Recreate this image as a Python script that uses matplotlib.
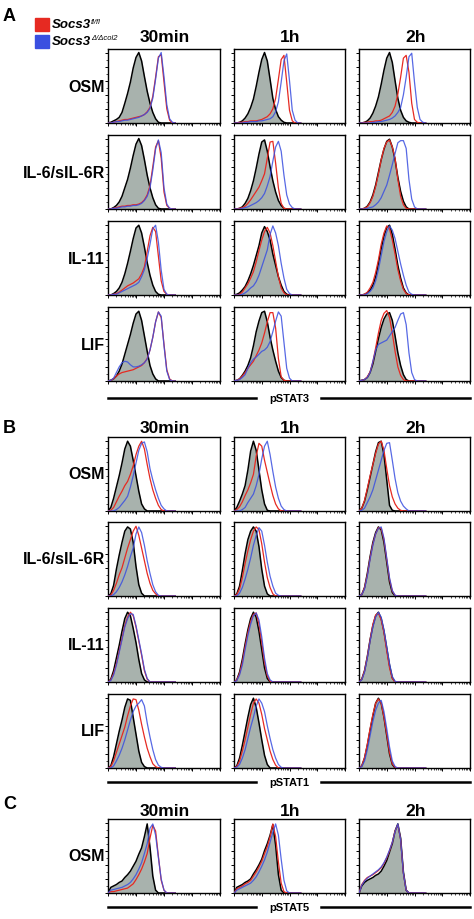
import numpy as np
import matplotlib.pyplot as plt
from matplotlib.ticker import FixedLocator, NullFormatter

plt.rcParams['font.family'] = ['Liberation Sans', 'DejaVu Sans']

##### data (channel grid 0..600, values in % of max) #####
channels = [0, 25, 50, 75, 100, 125, 150, 175, 200, 225, 250, 275, 300,
            325, 350, 375, 400, 425, 450, 475, 500, 525, 550, 575, 600]

times = ["30min", "1h", "2h"]
rows_a = ["OSM", "IL-6/sIL-6R", "IL-11", "LIF"]
rows_b = ["OSM", "IL-6/sIL-6R", "IL-11", "LIF"]
rows_c = ["OSM"]

# ----- A: pSTAT3 -----
a_osm_30_ctrl = [0, 1, 3, 5, 8, 15, 28, 42, 58, 78, 93, 100, 88, 66, 45, 28, 15, 6, 1, 0, 0, 0, 0, 0, 0]
a_osm_30_fl = [0, 0, 1, 2, 3, 4, 5, 5, 6, 7, 8, 9, 10, 12, 16, 22, 38, 65, 94, 97, 58, 20, 4, 0, 0]
a_osm_30_ko = [0, 0, 1, 2, 2, 3, 4, 4, 5, 6, 7, 8, 10, 12, 15, 21, 35, 62, 92, 100, 66, 26, 6, 1, 0]
a_osm_1h_ctrl = [0, 0, 1, 3, 7, 13, 22, 34, 52, 72, 90, 100, 88, 62, 35, 19, 9, 4, 1, 0, 0, 0, 0, 0, 0]
a_osm_1h_fl = [0, 0, 1, 1, 2, 2, 3, 3, 3, 4, 5, 7, 9, 13, 20, 35, 62, 90, 96, 58, 18, 3, 0, 0, 0]
a_osm_1h_ko = [0, 0, 0, 0, 1, 1, 2, 2, 2, 3, 3, 4, 5, 6, 9, 16, 30, 58, 88, 98, 60, 18, 4, 0, 0]
a_osm_2h_ctrl = [0, 0, 1, 3, 7, 14, 24, 37, 55, 75, 92, 100, 86, 60, 35, 18, 8, 3, 1, 0, 0, 0, 0, 0, 0]
a_osm_2h_fl = [0, 0, 1, 1, 2, 2, 3, 3, 4, 6, 8, 10, 15, 24, 41, 65, 92, 96, 72, 28, 5, 1, 0, 0, 0]
a_osm_2h_ko = [0, 0, 0, 0, 0, 1, 1, 2, 2, 3, 4, 5, 7, 10, 15, 22, 40, 65, 94, 99, 58, 22, 5, 1, 0]

a_il6_30_ctrl = [0, 0, 2, 5, 10, 18, 30, 42, 58, 76, 92, 100, 90, 70, 48, 30, 16, 6, 1, 0, 0, 0, 0, 0, 0]
a_il6_30_fl = [0, 0, 1, 2, 3, 4, 4, 5, 5, 6, 6, 7, 9, 13, 20, 33, 60, 88, 97, 72, 24, 5, 1, 0, 0]
a_il6_30_ko = [0, 0, 1, 1, 2, 3, 3, 4, 4, 5, 5, 6, 8, 12, 18, 30, 55, 85, 98, 80, 30, 7, 1, 0, 0]
a_il6_1h_ctrl = [0, 0, 1, 3, 8, 15, 26, 40, 58, 78, 95, 98, 82, 60, 40, 24, 12, 5, 1, 0, 0, 0, 0, 0, 0]
a_il6_1h_fl = [0, 0, 1, 2, 4, 8, 13, 19, 25, 31, 40, 50, 72, 95, 96, 65, 30, 8, 1, 0, 0, 0, 0, 0, 0]
a_il6_1h_ko = [0, 0, 0, 1, 2, 3, 5, 7, 9, 12, 16, 22, 33, 46, 68, 88, 96, 82, 48, 20, 7, 2, 0, 0, 0]
a_il6_2h_ctrl = [0, 0, 1, 4, 10, 20, 34, 52, 70, 85, 96, 99, 88, 70, 45, 25, 11, 3, 0, 0, 0, 0, 0, 0, 0]
a_il6_2h_fl = [0, 0, 1, 3, 9, 18, 32, 50, 70, 86, 95, 98, 88, 72, 42, 18, 6, 1, 0, 0, 0, 0, 0, 0, 0]
a_il6_2h_ko = [0, 0, 0, 1, 2, 3, 6, 10, 16, 25, 34, 48, 63, 79, 94, 97, 97, 86, 42, 14, 3, 0, 0, 0, 0]

a_il11_30_ctrl = [0, 0, 2, 5, 10, 18, 30, 45, 62, 80, 95, 99, 88, 68, 46, 28, 14, 5, 1, 0, 0, 0, 0, 0, 0]
a_il11_30_fl = [0, 0, 1, 2, 4, 7, 10, 13, 15, 17, 20, 23, 30, 40, 62, 84, 96, 90, 55, 20, 5, 1, 0, 0, 0]
a_il11_30_ko = [0, 0, 1, 1, 3, 5, 7, 9, 11, 13, 15, 18, 26, 36, 52, 72, 94, 99, 75, 35, 8, 1, 0, 0, 0]
a_il11_1h_ctrl = [0, 1, 3, 7, 12, 20, 30, 42, 56, 70, 88, 97, 90, 78, 58, 42, 26, 14, 5, 1, 0, 0, 0, 0, 0]
a_il11_1h_fl = [0, 0, 1, 4, 10, 16, 24, 33, 47, 63, 78, 90, 96, 88, 70, 48, 26, 10, 3, 0, 0, 0, 0, 0, 0]
a_il11_1h_ko = [0, 0, 0, 1, 3, 6, 10, 13, 19, 28, 40, 52, 64, 86, 98, 88, 70, 45, 24, 8, 2, 0, 0, 0, 0]
a_il11_2h_ctrl = [0, 0, 1, 3, 7, 14, 26, 45, 66, 84, 96, 99, 86, 65, 42, 24, 10, 3, 0, 0, 0, 0, 0, 0, 0]
a_il11_2h_fl = [0, 0, 1, 4, 10, 18, 32, 50, 72, 88, 98, 94, 78, 58, 36, 20, 8, 2, 0, 0, 0, 0, 0, 0, 0]
a_il11_2h_ko = [0, 0, 0, 2, 5, 10, 20, 36, 56, 76, 90, 98, 92, 80, 62, 44, 28, 14, 4, 1, 0, 0, 0, 0, 0]

a_lif_30_ctrl = [0, 1, 3, 7, 14, 24, 38, 52, 66, 82, 95, 99, 86, 64, 42, 22, 10, 3, 0, 0, 0, 0, 0, 0, 0]
a_lif_30_fl = [0, 1, 3, 7, 10, 12, 13, 14, 15, 16, 18, 20, 22, 26, 32, 44, 62, 84, 98, 90, 52, 16, 3, 0, 0]
a_lif_30_ko = [0, 1, 4, 12, 20, 26, 28, 27, 23, 20, 20, 21, 23, 26, 31, 44, 62, 84, 98, 92, 50, 14, 2, 0, 0]
a_lif_1h_ctrl = [0, 1, 3, 8, 14, 22, 33, 50, 70, 85, 97, 99, 84, 62, 44, 28, 14, 5, 1, 0, 0, 0, 0, 0, 0]
a_lif_1h_fl = [0, 1, 3, 7, 12, 18, 23, 28, 36, 44, 54, 68, 84, 97, 97, 75, 32, 6, 1, 0, 0, 0, 0, 0, 0]
a_lif_1h_ko = [0, 1, 2, 5, 9, 18, 26, 31, 34, 38, 42, 44, 48, 56, 70, 85, 98, 92, 55, 18, 4, 0, 0, 0, 0]
a_lif_2h_ctrl = [0, 1, 2, 5, 12, 24, 42, 60, 76, 88, 95, 97, 86, 64, 40, 22, 9, 2, 0, 0, 0, 0, 0, 0, 0]
a_lif_2h_fl = [0, 1, 2, 6, 13, 27, 47, 68, 86, 96, 100, 90, 68, 42, 20, 8, 2, 0, 0, 0, 0, 0, 0, 0, 0]
a_lif_2h_ko = [0, 1, 2, 5, 12, 28, 44, 52, 54, 56, 58, 64, 70, 76, 86, 95, 97, 80, 40, 12, 2, 0, 0, 0, 0]

# ----- B: pSTAT1 -----
b_osm_30_ctrl = [0, 5, 18, 34, 50, 68, 88, 99, 92, 72, 50, 28, 10, 3, 0, 0, 0, 0, 0, 0, 0, 0, 0, 0, 0]
b_osm_30_fl = [0, 1, 5, 13, 21, 28, 36, 42, 52, 64, 80, 92, 99, 88, 66, 46, 30, 18, 8, 2, 0, 0, 0, 0, 0]
b_osm_30_ko = [0, 0, 0, 2, 5, 10, 15, 21, 34, 50, 68, 86, 96, 98, 84, 60, 44, 30, 18, 8, 3, 0, 0, 0, 0]
b_osm_1h_ctrl = [0, 5, 14, 24, 36, 58, 85, 99, 86, 58, 30, 10, 1, 0, 0, 0, 0, 0, 0, 0, 0, 0, 0, 0, 0]
b_osm_1h_fl = [0, 2, 6, 13, 22, 30, 40, 52, 78, 96, 92, 72, 55, 38, 22, 10, 3, 0, 0, 0, 0, 0, 0, 0, 0]
b_osm_1h_ko = [0, 0, 0, 2, 5, 12, 18, 24, 36, 52, 74, 92, 99, 80, 56, 34, 18, 7, 2, 0, 0, 0, 0, 0, 0]
b_osm_2h_ctrl = [0, 4, 14, 30, 48, 66, 84, 97, 99, 80, 44, 8, 1, 0, 0, 0, 0, 0, 0, 0, 0, 0, 0, 0, 0]
b_osm_2h_fl = [0, 4, 15, 32, 50, 66, 82, 95, 99, 86, 60, 36, 20, 10, 4, 1, 0, 0, 0, 0, 0, 0, 0, 0, 0]
b_osm_2h_ko = [0, 1, 4, 12, 20, 30, 44, 58, 72, 86, 96, 97, 72, 46, 26, 14, 7, 3, 0, 0, 0, 0, 0, 0, 0]

b_il6_30_ctrl = [0, 3, 15, 38, 58, 76, 92, 98, 95, 76, 42, 16, 4, 0, 0, 0, 0, 0, 0, 0, 0, 0, 0, 0, 0]
b_il6_30_fl = [0, 1, 8, 18, 30, 40, 54, 68, 80, 92, 99, 86, 68, 50, 32, 18, 8, 3, 0, 0, 0, 0, 0, 0, 0]
b_il6_30_ko = [0, 0, 2, 6, 12, 20, 30, 42, 56, 68, 88, 98, 90, 72, 50, 32, 16, 6, 1, 0, 0, 0, 0, 0, 0]
b_il6_1h_ctrl = [0, 3, 14, 36, 60, 80, 92, 98, 92, 70, 38, 14, 3, 0, 0, 0, 0, 0, 0, 0, 0, 0, 0, 0, 0]
b_il6_1h_fl = [0, 2, 10, 26, 46, 64, 80, 92, 98, 94, 74, 48, 26, 12, 3, 0, 0, 0, 0, 0, 0, 0, 0, 0, 0]
b_il6_1h_ko = [0, 0, 4, 12, 24, 38, 54, 72, 86, 97, 92, 72, 48, 28, 14, 4, 1, 0, 0, 0, 0, 0, 0, 0, 0]
b_il6_2h_ctrl = [0, 2, 12, 32, 56, 76, 90, 98, 94, 76, 48, 20, 5, 0, 0, 0, 0, 0, 0, 0, 0, 0, 0, 0, 0]
b_il6_2h_fl = [0, 2, 12, 30, 54, 74, 88, 97, 96, 80, 52, 24, 7, 1, 0, 0, 0, 0, 0, 0, 0, 0, 0, 0, 0]
b_il6_2h_ko = [0, 2, 10, 28, 52, 72, 88, 96, 98, 82, 54, 26, 8, 1, 0, 0, 0, 0, 0, 0, 0, 0, 0, 0, 0]

b_il11_30_ctrl = [0, 4, 16, 34, 52, 72, 90, 99, 94, 76, 56, 32, 12, 3, 0, 0, 0, 0, 0, 0, 0, 0, 0, 0, 0]
b_il11_30_fl = [0, 3, 12, 26, 44, 62, 80, 92, 99, 94, 78, 58, 38, 16, 4, 0, 0, 0, 0, 0, 0, 0, 0, 0, 0]
b_il11_30_ko = [0, 2, 10, 24, 42, 60, 78, 90, 97, 96, 80, 60, 40, 18, 5, 0, 0, 0, 0, 0, 0, 0, 0, 0, 0]
b_il11_1h_ctrl = [0, 3, 14, 32, 54, 74, 90, 99, 92, 72, 46, 20, 5, 0, 0, 0, 0, 0, 0, 0, 0, 0, 0, 0, 0]
b_il11_1h_fl = [0, 3, 12, 28, 50, 70, 86, 96, 98, 82, 56, 28, 9, 1, 0, 0, 0, 0, 0, 0, 0, 0, 0, 0, 0]
b_il11_1h_ko = [0, 2, 10, 24, 46, 66, 82, 94, 98, 88, 64, 34, 12, 3, 0, 0, 0, 0, 0, 0, 0, 0, 0, 0, 0]
b_il11_2h_ctrl = [0, 4, 16, 36, 60, 80, 94, 99, 90, 72, 48, 24, 6, 0, 0, 0, 0, 0, 0, 0, 0, 0, 0, 0, 0]
b_il11_2h_fl = [0, 4, 16, 36, 60, 82, 95, 98, 88, 70, 44, 20, 5, 0, 0, 0, 0, 0, 0, 0, 0, 0, 0, 0, 0]
b_il11_2h_ko = [0, 3, 14, 34, 58, 78, 92, 99, 92, 74, 50, 26, 8, 1, 0, 0, 0, 0, 0, 0, 0, 0, 0, 0, 0]

b_lif_30_ctrl = [0, 3, 16, 34, 52, 68, 86, 98, 96, 72, 48, 24, 8, 2, 0, 0, 0, 0, 0, 0, 0, 0, 0, 0, 0]
b_lif_30_fl = [0, 2, 10, 22, 34, 46, 58, 74, 88, 98, 97, 82, 62, 44, 28, 16, 6, 2, 0, 0, 0, 0, 0, 0, 0]
b_lif_30_ko = [0, 0, 3, 10, 18, 28, 40, 54, 68, 80, 88, 92, 97, 88, 64, 44, 26, 12, 4, 1, 0, 0, 0, 0, 0]
b_lif_1h_ctrl = [0, 3, 14, 32, 52, 72, 90, 99, 86, 64, 40, 18, 5, 0, 0, 0, 0, 0, 0, 0, 0, 0, 0, 0, 0]
b_lif_1h_fl = [0, 2, 10, 24, 40, 58, 76, 92, 98, 92, 76, 56, 40, 24, 12, 4, 0, 0, 0, 0, 0, 0, 0, 0, 0]
b_lif_1h_ko = [0, 1, 5, 14, 26, 42, 58, 72, 88, 98, 92, 80, 60, 42, 26, 14, 5, 1, 0, 0, 0, 0, 0, 0, 0]
b_lif_2h_ctrl = [0, 3, 14, 32, 54, 74, 92, 99, 92, 72, 46, 20, 5, 0, 0, 0, 0, 0, 0, 0, 0, 0, 0, 0, 0]
b_lif_2h_fl = [0, 3, 15, 34, 56, 76, 92, 98, 92, 72, 48, 22, 6, 1, 0, 0, 0, 0, 0, 0, 0, 0, 0, 0, 0]
b_lif_2h_ko = [0, 2, 10, 26, 46, 66, 82, 92, 96, 80, 56, 30, 10, 2, 0, 0, 0, 0, 0, 0, 0, 0, 0, 0, 0]

# ----- C: pSTAT5 -----
c_osm_30_ctrl = [0, 8, 10, 12, 15, 17, 22, 26, 31, 38, 45, 55, 64, 80, 98, 65, 24, 4, 0, 0, 0, 0, 0, 0, 0]
c_osm_30_fl = [0, 2, 2, 3, 4, 5, 6, 7, 10, 13, 19, 26, 34, 44, 56, 78, 96, 88, 52, 18, 4, 0, 0, 0, 0]
c_osm_30_ko = [0, 4, 5, 6, 7, 8, 10, 12, 15, 20, 26, 34, 43, 56, 70, 92, 98, 82, 50, 20, 4, 0, 0, 0, 0]
c_osm_1h_ctrl = [0, 8, 10, 12, 15, 17, 20, 27, 33, 40, 48, 60, 70, 82, 97, 68, 26, 4, 0, 0, 0, 0, 0, 0, 0]
c_osm_1h_fl = [0, 6, 8, 10, 13, 15, 18, 24, 30, 37, 45, 56, 66, 80, 98, 80, 44, 14, 2, 0, 0, 0, 0, 0, 0]
c_osm_1h_ko = [0, 4, 6, 8, 10, 12, 14, 18, 23, 30, 38, 47, 58, 72, 86, 98, 82, 48, 18, 3, 0, 0, 0, 0, 0]
c_osm_2h_ctrl = [0, 10, 15, 18, 20, 22, 25, 27, 31, 38, 46, 58, 70, 88, 98, 78, 30, 4, 0, 0, 0, 0, 0, 0, 0]
c_osm_2h_fl = [0, 12, 18, 22, 24, 26, 29, 32, 36, 42, 50, 60, 72, 88, 97, 76, 28, 4, 0, 0, 0, 0, 0, 0, 0]
c_osm_2h_ko = [0, 11, 17, 21, 24, 27, 30, 33, 37, 43, 51, 61, 72, 87, 98, 76, 28, 4, 0, 0, 0, 0, 0, 0, 0]

panels_a = [
    [(a_osm_30_ctrl, a_osm_30_fl, a_osm_30_ko), (a_osm_1h_ctrl, a_osm_1h_fl, a_osm_1h_ko), (a_osm_2h_ctrl, a_osm_2h_fl, a_osm_2h_ko)],
    [(a_il6_30_ctrl, a_il6_30_fl, a_il6_30_ko), (a_il6_1h_ctrl, a_il6_1h_fl, a_il6_1h_ko), (a_il6_2h_ctrl, a_il6_2h_fl, a_il6_2h_ko)],
    [(a_il11_30_ctrl, a_il11_30_fl, a_il11_30_ko), (a_il11_1h_ctrl, a_il11_1h_fl, a_il11_1h_ko), (a_il11_2h_ctrl, a_il11_2h_fl, a_il11_2h_ko)],
    [(a_lif_30_ctrl, a_lif_30_fl, a_lif_30_ko), (a_lif_1h_ctrl, a_lif_1h_fl, a_lif_1h_ko), (a_lif_2h_ctrl, a_lif_2h_fl, a_lif_2h_ko)],
]
panels_b = [
    [(b_osm_30_ctrl, b_osm_30_fl, b_osm_30_ko), (b_osm_1h_ctrl, b_osm_1h_fl, b_osm_1h_ko), (b_osm_2h_ctrl, b_osm_2h_fl, b_osm_2h_ko)],
    [(b_il6_30_ctrl, b_il6_30_fl, b_il6_30_ko), (b_il6_1h_ctrl, b_il6_1h_fl, b_il6_1h_ko), (b_il6_2h_ctrl, b_il6_2h_fl, b_il6_2h_ko)],
    [(b_il11_30_ctrl, b_il11_30_fl, b_il11_30_ko), (b_il11_1h_ctrl, b_il11_1h_fl, b_il11_1h_ko), (b_il11_2h_ctrl, b_il11_2h_fl, b_il11_2h_ko)],
    [(b_lif_30_ctrl, b_lif_30_fl, b_lif_30_ko), (b_lif_1h_ctrl, b_lif_1h_fl, b_lif_1h_ko), (b_lif_2h_ctrl, b_lif_2h_fl, b_lif_2h_ko)],
]
panels_c = [
    [(c_osm_30_ctrl, c_osm_30_fl, c_osm_30_ko), (c_osm_1h_ctrl, c_osm_1h_fl, c_osm_1h_ko), (c_osm_2h_ctrl, c_osm_2h_fl, c_osm_2h_ko)],
]

##### layout (pixels) #####
W, H = 474, 920
col_x = [108, 234, 359]
col_w = [112, 111, 111]
panel_h = 74
RED = "#e62a22"
BLUE = "#3a4fe0"
GRAY = "#a8b2ad"

fig = plt.figure(figsize=(W / 100, H / 100), dpi=100)


def px_axes(x0, y0, w, h):
    return fig.add_axes([x0 / W, 1 - (y0 + h) / H, w / W, h / H])


# log-decade style ticks on channel scale
decade = 250
major_x = [i * decade for i in range(5)]
minor_x = [d + decade * np.log10(k) for d in major_x[:-1] for k in range(2, 10)]


def draw_panel(ax, curves):
    ctrl, fl, ko = curves
    ax.fill_between(channels, ctrl, color=GRAY, lw=0, zorder=1)
    ax.plot(channels, ctrl, color="black", lw=1.1, zorder=2)
    ax.plot(channels, fl, color=RED, lw=0.9, zorder=3)
    ax.plot(channels, ko, color=BLUE, lw=0.9, alpha=0.85, zorder=4)
    ax.set_xlim(0, 1000)
    ax.set_ylim(0, 105)
    ax.xaxis.set_major_locator(FixedLocator(major_x))
    ax.xaxis.set_minor_locator(FixedLocator(minor_x))
    ax.yaxis.set_major_locator(FixedLocator([0, 20, 40, 60, 80, 100]))
    ax.yaxis.set_minor_locator(FixedLocator([10, 30, 50, 70, 90]))
    ax.xaxis.set_major_formatter(NullFormatter())
    ax.yaxis.set_major_formatter(NullFormatter())
    ax.tick_params(which="major", length=2.5, width=0.7, direction="out")
    ax.tick_params(which="minor", length=1.5, width=0.5, direction="out")
    for s in ax.spines.values():
        s.set_linewidth(1.0)


def draw_section(panels, row_names, tops, header_y, letter, letter_y, marker, line_y):
    for r, (name, top) in enumerate(zip(row_names, tops)):
        for c in range(3):
            ax = px_axes(col_x[c], top, col_w[c], panel_h)
            draw_panel(ax, panels[r][c])
        fig.text(105 / W, 1 - (top + panel_h / 2) / H, name, ha="right",
                 va="center", fontsize=11.5, fontweight="bold")
    for c, t in enumerate(times):
        fig.text((col_x[c] + col_w[c] / 2 + 1) / W, 1 - header_y / H, t,
                 ha="center", va="baseline", fontsize=12.5, fontweight="bold")
    fig.text(3 / W, 1 - letter_y / H, letter, ha="left", va="baseline",
             fontsize=13, fontweight="bold")
    # marker axis line
    fig.add_artist(plt.Line2D([108 / W, 256 / W], [1 - line_y / H] * 2,
                              color="black", lw=1.8))
    fig.add_artist(plt.Line2D([321 / W, 470 / W], [1 - line_y / H] * 2,
                              color="black", lw=1.8))
    fig.text(289 / W, 1 - line_y / H, marker, ha="center", va="center",
             fontsize=8, fontweight="bold")


draw_section(panels_a, rows_a, [50, 136, 222, 308], 42, "A", 21, "pSTAT3", 399)
draw_section(panels_b, rows_b, [438, 523, 609, 695], 433, "B", 433, "pSTAT1", 783)
draw_section(panels_c, rows_c, [820], 816, "C", 809, "pSTAT5", 908)

# legend
for color, yc, label, sup in [(RED, 25, "Socs3", "fl/fl"),
                              (BLUE, 42, "Socs3", "\u0394/\u0394col2")]:
    fig.patches.append(plt.Rectangle((35 / W, 1 - (yc + 6.5) / H), 14 / W, 13 / H,
                                     transform=fig.transFigure, color=color))
    fig.text(52 / W, 1 - yc / H, label, ha="left", va="center", fontsize=9.5,
             fontweight="bold", style="italic")
    fig.text(91 / W, 1 - (yc - 3) / H, sup, ha="left", va="center", fontsize=5.5,
             style="italic")

fig.savefig("out.png", dpi=100)
